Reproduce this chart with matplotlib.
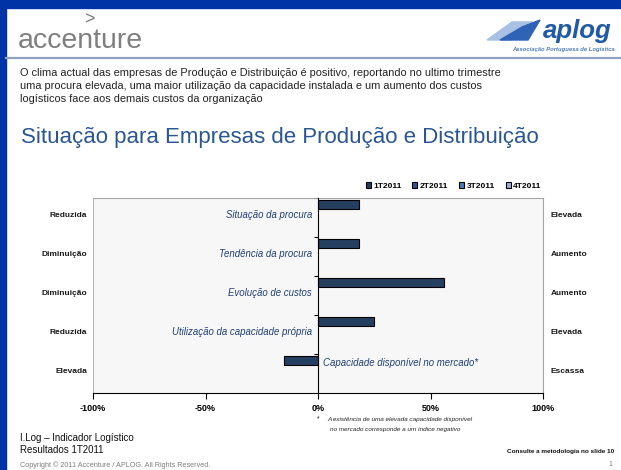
import matplotlib
matplotlib.use("Agg")
import matplotlib.pyplot as plt
from matplotlib.patches import Rectangle, Polygon
import numpy as np

# ---- data ----
categories = ["Situação da procura", "Tendência da procura", "Evolução de custos",
              "Utilização da capacidade própria", "Capacidade disponível no mercado*"]
left_labels = ["Reduzida", "Diminuição", "Diminuição", "Reduzida", "Elevada"]
right_labels = ["Elevada", "Aumento", "Aumento", "Elevada", "Escassa"]
series_names = ["1T2011", "2T2011", "3T2011", "4T2011"]
v_1T2011 = [18, 18, 56, 25, -15]
v_2T2011 = [np.nan] * 5
v_3T2011 = [np.nan] * 5
v_4T2011 = [np.nan] * 5
x_ticks = [-100, -50, 0, 50, 100]
x_ticklabels = ["-100%", "-50%", "0%", "50%", "100%"]

series_values = [v_1T2011, v_2T2011, v_3T2011, v_4T2011]
series_colors = ["#243F60", "#2F5597", "#4A7EBB", "#95B3D7"]

W, H = 621, 470
fig = plt.figure(figsize=(W / 100, H / 100), dpi=100)
FONT = "Liberation Sans"

def fx(x):
    return x / W

def fy(y):
    return 1 - y / H

# ---- slide frame ----
fig.patches.append(Rectangle((0, fy(8)), 1, 8 / H, transform=fig.transFigure,
                             color="#0033A6", zorder=0))
fig.patches.append(Rectangle((0, 0), 6 / W, 1, transform=fig.transFigure,
                             color="#0033A6", zorder=0))
fig.lines.append(plt.Line2D([fx(6), 1], [fy(58), fy(58)], transform=fig.transFigure,
                            color="#8FA3BF", lw=1.6))

# accenture logo
fig.text(fx(18), fy(41), "accenture", fontsize=20.5, color="#7F7F7F",
         family=FONT, va="center", ha="left")
fig.text(fx(89), fy(20), ">", fontsize=13, color="#7F7F7F", family=FONT,
         va="center", ha="center")

# aplog logo
fig.patches.append(Polygon([(fx(487), fy(40)), (fx(512), fy(22)), (fx(533), fy(22)),
                            (fx(510), fy(40))], closed=True, transform=fig.transFigure,
                           color="#A9C1E3", zorder=1))
fig.patches.append(Polygon([(fx(500), fy(40)), (fx(522), fy(27)), (fx(540), fy(20)),
                            (fx(528), fy(40))], closed=True, transform=fig.transFigure,
                           color="#2F63B5", zorder=1))
fig.text(fx(577), fy(31), "aplog", fontsize=18.5, color="#1F5AA6", family=FONT,
         weight="bold", style="italic", va="center", ha="center")
fig.text(fx(615), fy(49), "Associação Portuguesa de Logística", fontsize=4.2,
         color="#4A7EBB", family=FONT, style="italic", weight="bold",
         va="center", ha="right")

# body text
body = ["O clima actual das empresas de Produção e Distribuição é positivo, reportando no ultimo trimestre",
        "uma procura elevada, uma maior utilização da capacidade instalada e um aumento dos custos",
        "logísticos face aos demais custos da organização"]
for i, line in enumerate(body):
    fig.text(fx(20), fy(73 + 13.2 * i), line, fontsize=7.9, color="#222222",
             family=FONT, va="center", ha="left")

fig.text(fx(21), fy(137), "Situação para Empresas de Produção e Distribuição",
         fontsize=16, color="#2A5694", family=FONT, va="center", ha="left")

# ---- chart ----
ax_l, ax_r, ax_t, ax_b = 93, 543, 198, 393
ax = fig.add_axes([fx(ax_l), fy(ax_b), (ax_r - ax_l) / W, (ax_b - ax_t) / H])
ax.set_facecolor("#F7F7F7")
n = len(categories)
bar_h = 0.23
group_start = 0.5 - 0.46
handles = []
for s, (vals, col) in enumerate(zip(series_values, series_colors)):
    ypos = np.arange(n) + group_start + bar_h * (s + 0.5)
    bc = ax.barh(ypos, vals, height=bar_h, color=col, edgecolor="black",
                 linewidth=0.8, zorder=3, label=series_names[s])
    handles.append(bc)

ax.set_xlim(-100, 100)
ax.set_ylim(n, 0)
ax.set_xticks(x_ticks)
ax.set_xticklabels(x_ticklabels, fontsize=6.5, weight="bold", family=FONT)
ax.tick_params(axis="x", direction="out", length=4, width=0.8, pad=4)
ax.set_yticks(np.arange(n))
ax.tick_params(axis="y", direction="out", length=3, width=0.8, labelleft=False)
for sp in ["top", "right"]:
    ax.spines[sp].set_color("#A6A6A6")
    ax.spines[sp].set_linewidth(0.8)
ax.spines["left"].set_position(("data", 0))
ax.spines["left"].set_color("black")
ax.spines["left"].set_zorder(4)
ax.spines["bottom"].set_color("black")
ax.spines["bottom"].set_linewidth(0.8)
ax.axvline(-100, color="#A6A6A6", lw=1.2, zorder=1)

for i, cat in enumerate(categories):
    if v_1T2011[i] >= 0:
        ax.text(-2.7, i + 0.44, cat, fontsize=6.9, style="italic", color="#1F3F73",
                family=FONT, ha="right", va="center")
    else:
        ax.text(2.3, i + 0.23, cat, fontsize=6.9, style="italic", color="#1F3F73",
                family=FONT, ha="left", va="center")
    ax.text(-102.5, i + 0.45, left_labels[i], fontsize=6, weight="bold",
            color="#1A1A1A", family=FONT, ha="right", va="center", clip_on=False)
    ax.text(103.5, i + 0.45, right_labels[i], fontsize=6, weight="bold",
            color="#1A1A1A", family=FONT, ha="left", va="center", clip_on=False)

leg = fig.legend(handles=handles, labels=series_names, loc="center right",
                 bbox_to_anchor=(fx(545), fy(186)), ncol=4, frameon=False,
                 handlelength=0.6, handleheight=0.6,
                 handletextpad=0.3, columnspacing=1.3, borderaxespad=0,
                 prop={"family": FONT, "weight": "bold", "size": 6})

# footnote
fig.text(fx(317), fy(419), "*", fontsize=5, color="#222222", family=FONT,
         va="center", ha="left")
fig.text(fx(327), fy(419), "A existência de uma elevada capacidade disponível",
         fontsize=4.6, style="italic", color="#222222", family=FONT,
         va="center", ha="left")
fig.text(fx(330), fy(429), "no mercado corresponde a um índice negativo",
         fontsize=4.6, style="italic", color="#222222", family=FONT,
         va="center", ha="left")

fig.text(fx(20), fy(438), "I.Log – Indicador Logístico", fontsize=7,
         color="#111111", family=FONT, va="center", ha="left")
fig.text(fx(20), fy(450), "Resultados 1T2011", fontsize=7,
         color="#111111", family=FONT, va="center", ha="left")
fig.text(fx(614), fy(451), "Consulte a metodologia no slide 10", fontsize=4.6,
         color="#111111", family=FONT, weight="bold", va="center", ha="right")
fig.text(fx(20), fy(465), "Copyright © 2011 Accenture / APLOG. All Rights Reserved.",
         fontsize=5.2, color="#7F7F7F", family=FONT, va="center", ha="left")
fig.text(fx(612), fy(465), "1", fontsize=5, color="#7F7F7F", family=FONT,
         va="center", ha="right")

fig.savefig("out.png", dpi=100)
